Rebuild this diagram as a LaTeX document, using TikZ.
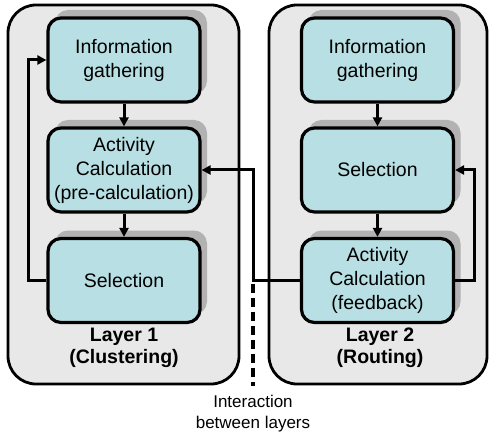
\documentclass[tikz,border=0pt]{standalone}
\usepackage{fontspec}
\setmainfont{Liberation Sans}
\usetikzlibrary{arrows.meta,calc}
\definecolor{boxfill}{RGB}{184,223,227}
\definecolor{outerfill}{RGB}{232,232,232}
\definecolor{shadowgray}{RGB}{178,178,178}
\begin{document}
\begin{tikzpicture}[x=1pt,y=-1pt,
  outer/.style={draw=black, line width=2.8pt, fill=outerfill, rounded corners=28pt, minimum height=379pt, inner sep=0pt},
  stepbox/.style={draw=black, line width=3.2pt, fill=boxfill, rounded corners=13pt, minimum width=152pt, minimum height=84pt, align=center, font=\fontsize{19.5}{24}\selectfont, inner sep=0pt},
  shadowbox/.style={fill=shadowgray, rounded corners=13pt, minimum width=152pt, minimum height=84pt, inner sep=0pt},
  arr/.style={line width=3pt, -{Triangle[length=9pt,width=9pt]}},
  lab/.style={font=\fontsize{19.5}{22}\selectfont\bfseries, align=center},
  note/.style={font=\fontsize{17}{21}\selectfont, align=center}]
\useasboundingbox (0,0) rectangle (489,438);
% outer containers
\node[outer, minimum width=231pt] (L1) at (123.5,194.5) {};
\node[outer, minimum width=218pt] (L2) at (378,194.5) {};
% shadows
\foreach \x/\y in {124/60,124/170,124/280.5,377.5/60,377.5/170,377.5/280.5}
  \node[shadowbox] at (\x+7,\y-8) {};
% layer 1 boxes
\node[stepbox] (i1) at (124,60) {Information\\gathering};
\node[stepbox] (a1) at (124,170) {Activity\\Calculation\\(pre-calculation)};
\node[stepbox] (s1) at (124,280.5) {Selection};
% layer 2 boxes
\node[stepbox] (i2) at (377.5,60) {Information\\gathering};
\node[stepbox] (s2) at (377.5,170) {Selection};
\node[stepbox] (f2) at (377.5,280.5) {Activity\\Calculation\\(feedback)};
% labels
\node[lab] (t1) at (124,348) {Layer 1\\(Clustering)};
\node[lab] (t2) at (380,348) {Layer 2\\(Routing)};
% arrows layer 1
\draw[arr] (i1) -- (a1);
\draw[arr] (a1) -- (s1);
\draw[arr] (s1.west) -- ++(-18,0) |- (i1.west);
% arrows layer 2
\draw[arr] (i2) -- (s2);
\draw[arr] (s2) -- (f2);
\draw[arr] (f2.east) -- ++(19,0) |- (s2.east);
% interaction
\coordinate (ix) at (253,280.5);
\coordinate (ie) at (253,386);
\draw[arr] (f2.west) -- (ix) |- (a1.east);
\draw[line width=3.5pt, dash pattern=on 9pt off 5pt] ($(ix)+(0,3)$) -- (ie);
\node[note] (it) at (253,414) {Interaction\\between layers};
\end{tikzpicture}
\end{document}
